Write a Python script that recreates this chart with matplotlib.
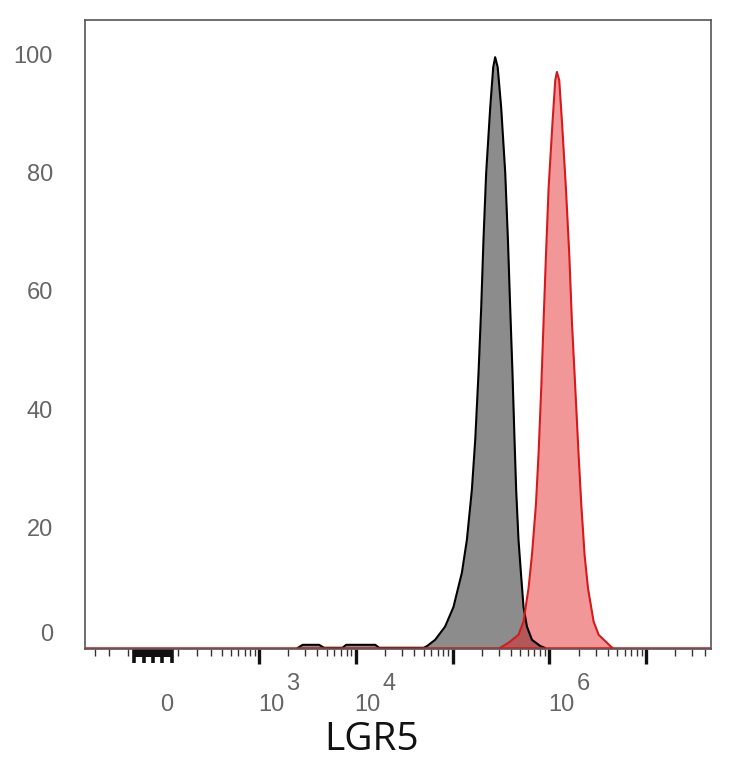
import numpy as np
import matplotlib
matplotlib.use("Agg")
import matplotlib.pyplot as plt

# histogram outlines: log10(intensity) and % of max
black_log = [3.40, 3.45, 3.62, 3.67, 3.86, 3.90, 4.20, 4.24,
             4.70, 4.736, 4.819, 4.922, 5.008, 5.095, 5.147, 5.198, 5.233,
             5.267, 5.295, 5.318, 5.346, 5.388, 5.419, 5.439, 5.465, 5.501,
             5.543, 5.571, 5.594, 5.618, 5.639, 5.656, 5.680, 5.705, 5.732,
             5.767, 5.819, 5.905, 5.95]
black_count = [0, 0.5, 0.5, 0, 0, 0.5, 0.5, 0,
               0, 0.3, 1.35, 3.6, 6.9, 12.7, 18.3, 26.7, 35.2,
               46.5, 57.7, 69.0, 80.4, 91.5, 98.3, 100.0, 98.3, 91.5,
               80.4, 69.0, 57.7, 46.5, 35.2, 26.7, 18.3, 12.7, 6.9,
               3.6, 1.35, 0.3, 0]

red_log = [5.491, 5.577, 5.680, 5.732, 5.784, 5.819, 5.860, 5.887, 5.915,
           5.939, 5.964, 5.991, 6.032, 6.060, 6.077, 6.101, 6.129, 6.170,
           6.205, 6.232, 6.267, 6.301, 6.329, 6.363, 6.398, 6.456, 6.508,
           6.594, 6.649]
red_count = [0, 0.85, 2.2, 4.45, 10.1, 15.7, 24.2, 32.7, 43.9,
             55.2, 66.5, 77.8, 89.1, 96.1, 97.5, 96.1, 89.1, 77.8,
             66.5, 55.2, 43.9, 32.7, 24.2, 15.7, 10.1, 4.45, 2.2,
             0.85, 0]

y_ticks = [0, 20, 40, 60, 80, 100]
x_labels = [(0, "0", None), (1e3, "10", "3"), (1e4, "10", "4"), (1e6, "10", "6")]

C = 160.0


def fwd(x):
    return np.arcsinh(np.asarray(x) / C)


def inv(y):
    return C * np.sinh(np.asarray(y))


fig = plt.figure(figsize=(7.34, 7.68), dpi=100)
ax = fig.add_axes([0.1158, 0.155, 0.8529, 0.819])
ax.set_xscale("function", functions=(fwd, inv))
ax.set_xlim(-387, 4.67e7)
ax.set_ylim(-0.2, 106.3)

bx = 10 ** np.array(black_log)
rx = 10 ** np.array(red_log)
ax.fill_between(bx, black_count, color="black", alpha=0.45, lw=0)
ax.plot(bx, black_count, color="black", lw=1.5)
ax.axhline(0, color="#d7191c", lw=1.4, alpha=0.8)
ax.fill_between(rx, red_count, color="#e41a1c", alpha=0.45, lw=0)
ax.plot(rx, red_count, color="#d7191c", lw=1.5)

# ticks on the biexponential axis
major = [1e3, 1e4, 1e5, 1e6, 1e7]
minor = [-100, -200, -300, 100]
for d in range(2, 8):
    for k in range(2, 10):
        v = k * 10 ** d
        if v < 4.67e7:
            minor.append(v)
ax.set_xticks(major)
ax.set_xticks(sorted(set(minor)), minor=True)
ax.set_xticklabels([])
ax.tick_params(axis="x", which="major", length=11, width=2.4, color="#111")
ax.tick_params(axis="x", which="minor", length=5, width=1.0, color="#333")

# dense block of ticks around zero (lengths in axes fraction, ~629 px tall)
px = 1 / 629
xt = ax.get_xaxis_transform()
ax.fill_between([-75, 75], [-8 * px, -8 * px], [0, 0], transform=xt,
                color="#111", lw=0, clip_on=False)
for v in (-75, -35, 0, 35, 75):
    ax.plot([v, v], [0, -14 * px], transform=xt, color="#111", lw=2.6,
            clip_on=False, solid_capstyle="butt")

ax.set_yticks(y_ticks)
ax.set_yticklabels([])
ax.tick_params(axis="y", length=0)

for s in ax.spines.values():
    s.set_color("#555555")
    s.set_linewidth(1.2)

lab = dict(fontsize=17, color="#666666", family="Liberation Sans")
for v in y_ticks:
    dy = 9 if v == 0 else 0
    ax.annotate(str(v), xy=(0, v), xycoords=("axes fraction", "data"),
                xytext=(-23, dy), textcoords="offset points",
                ha="right", va="center", **lab)

for v, base, sup in x_labels:
    ax.annotate(base, xy=(v, 0), xycoords=("data", "axes fraction"),
                xytext=(-1 if sup else 5, -40), textcoords="offset points",
                ha="left", va="center", **lab)
    if sup:
        ax.annotate(sup, xy=(v, 0), xycoords=("data", "axes fraction"),
                    xytext=(19.5, -25), textcoords="offset points",
                    ha="left", va="center", **lab)

fig.text(372 / 734, 1 - 740 / 768, "LGR5", fontsize=28, color="#111111",
         family="Open Sans", ha="center", va="center")

fig.savefig("out.png", dpi=100)
